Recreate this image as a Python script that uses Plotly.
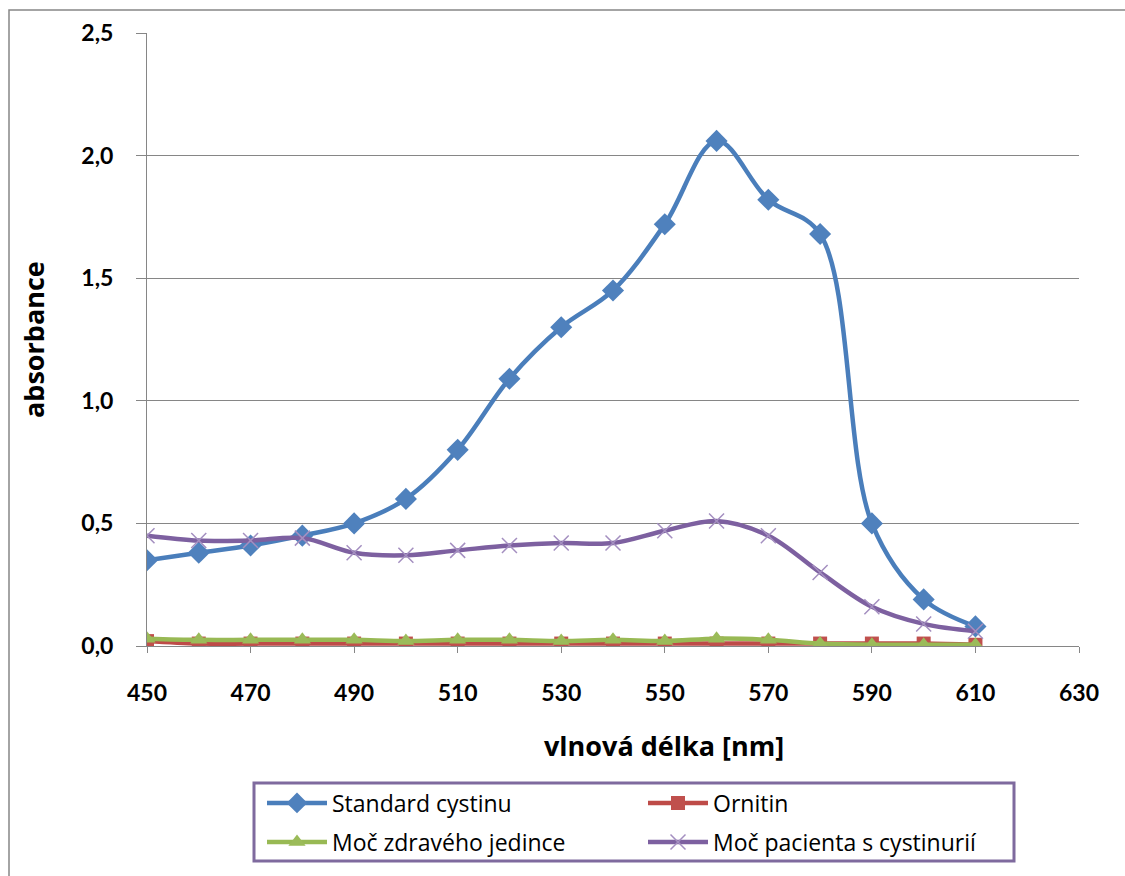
import plotly.graph_objects as go

wavelength = [450, 460, 470, 480, 490, 500, 510, 520, 530, 540, 550, 560, 570, 580, 590, 600, 610]
standard_cystinu = [0.35, 0.38, 0.41, 0.45, 0.50, 0.60, 0.80, 1.09, 1.30, 1.45, 1.72, 2.06, 1.82, 1.68, 0.50, 0.19, 0.08]
ornitin = [0.02, 0.01, 0.01, 0.01, 0.01, 0.01, 0.01, 0.01, 0.01, 0.01, 0.01, 0.01, 0.01, 0.01, 0.01, 0.01, 0.005]
moc_zdraveho = [0.03, 0.025, 0.025, 0.025, 0.025, 0.02, 0.025, 0.025, 0.02, 0.025, 0.02, 0.03, 0.025, 0.01, 0.005, 0.005, 0.005]
moc_pacienta = [0.45, 0.43, 0.43, 0.44, 0.38, 0.37, 0.39, 0.41, 0.42, 0.42, 0.47, 0.51, 0.45, 0.30, 0.16, 0.09, 0.06]

names = ["Standard cystinu", "Ornitin", "Moč zdravého jedince", "Moč pacienta s cystinurií"]
y_ticks = [0.0, 0.5, 1.0, 1.5, 2.0, 2.5]
x_title = "vlnová délka [nm]"
y_title = "absorbance"

FONT = "Lato, 'Open Sans', sans-serif"
TITLE_FONT = "'Open Sans', Lato, sans-serif"
LEG_FONT = "'Open Sans', Lato, sans-serif"

L, R, T, B = 147, 46, 33, 230
W, H = 1125, 876
pw = W - L - R
ph = H - T - B

def px_x(x):
    return (x - L) / pw

def px_y(y):
    return (H - B - y) / ph

fig = go.Figure()

series = [
    (names[0], standard_cystinu, "#4A7EBB", "#4F81BD", "diamond", 17, "legend"),
    (names[1], ornitin, "#BE4B48", "#C0504D", "square", 14, "legend"),
    (names[2], moc_zdraveho, "#98B954", "#9BBB59", "triangle-up", 15, "legend2"),
    (names[3], moc_pacienta, "#7D60A0", "#8064A2", "x-thin", 15, "legend2"),
]

for name, vals, lc, mc, sym, size, leg in series:
    marker = dict(symbol=sym, size=size, color=mc)
    if sym == "x-thin":
        marker["line"] = dict(color="#A48FC0", width=1.5)
    else:
        marker["line"] = dict(color=mc, width=0)
    fig.add_trace(go.Scatter(
        x=wavelength, y=vals, name=name, mode="lines+markers",
        line=dict(color=lc, width=4.5, shape="spline", smoothing=1.0),
        marker=marker, legend=leg,
    ))

legend_common = dict(
    orientation="h", xanchor="left", yanchor="middle",
    xref="container", yref="container",
    font=dict(family=LEG_FONT, size=23, color="#000000"),
    bgcolor="rgba(0,0,0,0)", borderwidth=0,
    entrywidth=306, entrywidthmode="pixels", itemwidth=60,
    traceorder="normal",
)

fig.update_layout(
    width=W, height=H,
    margin=dict(l=L, r=R, t=T, b=B, autoexpand=False),
    paper_bgcolor="white", plot_bgcolor="white",
    separators=", ",
    showlegend=True,
    legend=dict(x=262 / W, y=1 - 803 / H, **legend_common),
    legend2=dict(x=262 / W, y=1 - 842 / H, **legend_common),
    xaxis=dict(
        range=[450, 630], tick0=450, dtick=20, tickmode="linear",
        showgrid=False, zeroline=False, automargin=False,
        showline=True, linecolor="#868686", linewidth=1,
        ticks="outside", ticklen=6, tickcolor="#868686",
        tickfont=dict(family=FONT, size=23, color="#000000", weight="bold"),
        ticklabelstandoff=20,
    ),
    yaxis=dict(
        range=[0, 2.5], tickvals=y_ticks, tickformat=".1f",
        showgrid=True, gridcolor="#868686", gridwidth=1,
        zeroline=False, automargin=False,
        showline=True, linecolor="#868686", linewidth=1,
        ticks="outside", ticklen=10, tickcolor="#868686",
        tickfont=dict(family=FONT, size=23, color="#000000", weight="bold"),
        ticklabelstandoff=18,
    ),
    annotations=[
        dict(text=x_title, xref="paper", yref="paper", x=px_x(664), y=px_y(745),
             xanchor="center", yanchor="middle", showarrow=False,
             font=dict(family=TITLE_FONT, size=27, color="#000000", weight="bold")),
        dict(text=y_title, xref="paper", yref="paper", x=px_x(33), y=px_y(340),
             xanchor="center", yanchor="middle", showarrow=False, textangle=-90,
             font=dict(family=TITLE_FONT, size=27, color="#000000", weight="bold")),
    ],
    shapes=[
        dict(type="rect", xref="paper", yref="paper",
             x0=px_x(9), x1=px_x(1140), y0=px_y(10), y1=px_y(900),
             line=dict(color="#868686", width=1.5), fillcolor="rgba(0,0,0,0)", layer="below"),
        dict(type="rect", xref="paper", yref="paper",
             x0=px_x(254), x1=px_x(1014), y0=px_y(783), y1=px_y(861),
             line=dict(color="#7F6A9E", width=3), fillcolor="rgba(0,0,0,0)"),
    ],
)

fig.write_html("out.html", config={"displayModeBar": False},
               post_script="document.body.style.margin='0';document.body.style.overflow='hidden';")
